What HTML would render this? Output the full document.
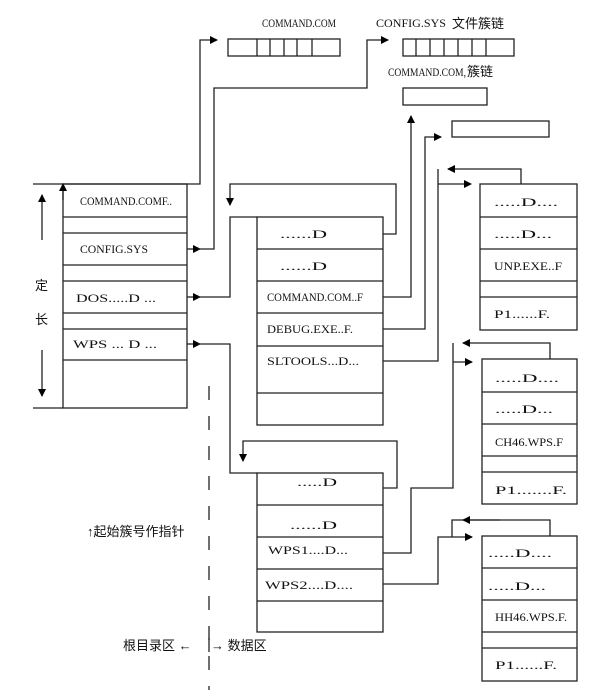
<!DOCTYPE html>
<html><head><meta charset="utf-8"><style>
html,body{margin:0;padding:0;background:#fff;}
svg{display:block;}
text{font-family:"Liberation Serif","Noto Serif CJK SC","Noto Sans CJK SC",serif;font-size:12px;fill:#111;}
.c{font-family:"Liberation Sans","Noto Sans CJK SC",sans-serif;font-size:13px;}
</style></head><body>
<svg width="603" height="698" viewBox="0 0 603 698" xmlns="http://www.w3.org/2000/svg">
<defs>
<marker id="a" markerWidth="8" markerHeight="8" refX="7" refY="4" orient="auto" markerUnits="userSpaceOnUse"><path d="M0,0 L8,4 L0,8 z" fill="#000"/></marker>
</defs>
<g stroke="#222" stroke-width="1.3" fill="none">
<!-- left box -->
<rect x="63" y="184" width="124" height="224"/>
<line x1="63" y1="217" x2="187" y2="217"/><line x1="63" y1="233" x2="187" y2="233"/>
<line x1="63" y1="265" x2="187" y2="265"/><line x1="63" y1="281" x2="187" y2="281"/>
<line x1="63" y1="313" x2="187" y2="313"/><line x1="63" y1="329" x2="187" y2="329"/>
<line x1="63" y1="360" x2="187" y2="360"/>
<line x1="33" y1="408" x2="63" y2="408"/>
<line x1="63" y1="200" x2="63" y2="184" marker-end="url(#a)"/>
<line x1="42" y1="240" x2="42" y2="195" marker-end="url(#a)"/>
<line x1="42" y1="350" x2="42" y2="396" marker-end="url(#a)"/>
<!-- top line to COMMAND.COM -->
<polyline points="33,184 200,184 200,40 217,40" marker-end="url(#a)"/>
<!-- CONFIG.SYS -->
<polyline points="187,249 200,249" marker-end="url(#a)"/>
<polyline points="198,249 214,249 214,88 367,88 367,40 388,40" marker-end="url(#a)"/>
<!-- DOS -->
<polyline points="187,297 200,297" marker-end="url(#a)"/>
<polyline points="198,297 230,297 230,217 257,217"/>
<!-- WPS -->
<polyline points="187,344 200,344" marker-end="url(#a)"/>
<polyline points="198,344 230,344 230,473 257,473"/>
<!-- top boxes -->
<rect x="228" y="39" width="112" height="17"/>
<line x1="257" y1="39" x2="257" y2="56"/><line x1="270" y1="39" x2="270" y2="56"/><line x1="284" y1="39" x2="284" y2="56"/><line x1="297" y1="39" x2="297" y2="56"/><line x1="312" y1="39" x2="312" y2="56"/>
<rect x="403" y="39" width="111" height="17"/>
<line x1="416" y1="39" x2="416" y2="56"/><line x1="430" y1="39" x2="430" y2="56"/><line x1="444" y1="39" x2="444" y2="56"/><line x1="458" y1="39" x2="458" y2="56"/><line x1="472" y1="39" x2="472" y2="56"/><line x1="486" y1="39" x2="486" y2="56"/>
<rect x="403" y="88" width="84" height="17"/>
<rect x="452" y="121" width="97" height="16"/>
<!-- middle box 1 -->
<rect x="257" y="217" width="126" height="208"/>
<line x1="257" y1="249" x2="383" y2="249"/><line x1="257" y1="281" x2="383" y2="281"/>
<line x1="257" y1="313" x2="383" y2="313"/><line x1="257" y1="346" x2="383" y2="346"/>
<line x1="257" y1="393" x2="383" y2="393"/>
<polyline points="383,234 396,234 396,184 230,184 230,205" marker-end="url(#a)"/>
<polyline points="383,297 411,297 411,116" marker-end="url(#a)"/>
<polyline points="383,329 425,329 425,137 441,137" marker-end="url(#a)"/>
<polyline points="383,361 438,361 438,169"/>
<polyline points="521,184 521,169 448,169" marker-end="url(#a)"/>
<polyline points="438,184 471,184" marker-end="url(#a)"/>
<!-- right box 1 -->
<rect x="480" y="184" width="97" height="146"/>
<line x1="480" y1="217" x2="577" y2="217"/><line x1="480" y1="249" x2="577" y2="249"/>
<line x1="480" y1="281" x2="577" y2="281"/><line x1="480" y1="297" x2="577" y2="297"/>
<!-- middle box 2 -->
<rect x="257" y="473" width="126" height="159"/>
<line x1="257" y1="505" x2="383" y2="505"/><line x1="257" y1="537" x2="383" y2="537"/>
<line x1="257" y1="569" x2="383" y2="569"/><line x1="257" y1="601" x2="383" y2="601"/>
<polyline points="383,488 397,488 397,441 243,441 243,461" marker-end="url(#a)"/>
<polyline points="383,553 411,553 411,488 453,488 453,343"/>
<polyline points="550,359 550,343 463,343" marker-end="url(#a)"/>
<polyline points="453,362 472,362" marker-end="url(#a)"/>
<!-- right box 2 -->
<rect x="482" y="359" width="95" height="145"/>
<line x1="482" y1="392" x2="577" y2="392"/><line x1="482" y1="424" x2="577" y2="424"/>
<line x1="482" y1="456" x2="577" y2="456"/><line x1="482" y1="472" x2="577" y2="472"/>
<!-- right box 3 -->
<polyline points="383,584 438,584 438,537 472,537" marker-end="url(#a)"/>
<polyline points="452,537 452,520 550,520 550,536"/>
<line x1="500" y1="520" x2="463" y2="520" marker-end="url(#a)"/>
<rect x="482" y="536" width="95" height="145"/>
<line x1="482" y1="568" x2="577" y2="568"/><line x1="482" y1="600" x2="577" y2="600"/>
<line x1="482" y1="632" x2="577" y2="632"/><line x1="482" y1="648" x2="577" y2="648"/>
<!-- dashed -->
<line x1="209" y1="386" x2="209" y2="690" stroke-dasharray="14,16"/>
<line x1="209" y1="638" x2="209" y2="652"/>
</g>
<!-- texts -->
<text x="262" y="27" textLength="74" lengthAdjust="spacingAndGlyphs">COMMAND.COM</text>
<text x="376" y="27" textLength="70" lengthAdjust="spacingAndGlyphs">CONFIG.SYS</text>
<text class="c" x="452" y="28">文件簇链</text>
<text x="388" y="76" textLength="78" lengthAdjust="spacingAndGlyphs">COMMAND.COM,</text>
<text class="c" x="467" y="76">簇链</text>
<text x="80" y="205" textLength="92" lengthAdjust="spacingAndGlyphs">COMMAND.COMF..</text>
<text x="80" y="253" textLength="68" lengthAdjust="spacingAndGlyphs">CONFIG.SYS</text>
<text x="76" y="302" textLength="80" lengthAdjust="spacingAndGlyphs">DOS.....D ...</text>
<text x="73" y="348" textLength="84" lengthAdjust="spacingAndGlyphs">WPS ... D ...</text>
<text class="c" x="35" y="290">定</text>
<text class="c" x="35" y="324">长</text>
<text x="280" y="238" textLength="47" lengthAdjust="spacingAndGlyphs">......D</text>
<text x="280" y="270" textLength="47" lengthAdjust="spacingAndGlyphs">......D</text>
<text x="267" y="301" textLength="96" lengthAdjust="spacingAndGlyphs">COMMAND.COM..F</text>
<text x="267" y="333" textLength="86" lengthAdjust="spacingAndGlyphs">DEBUG.EXE..F.</text>
<text x="267" y="365" textLength="92" lengthAdjust="spacingAndGlyphs">SLTOOLS...D...</text>
<text x="494" y="206" textLength="64" lengthAdjust="spacingAndGlyphs">.....D....</text>
<text x="494" y="238" textLength="58" lengthAdjust="spacingAndGlyphs">.....D...</text>
<text x="494" y="270" textLength="68" lengthAdjust="spacingAndGlyphs">UNP.EXE..F</text>
<text x="494" y="318" textLength="56" lengthAdjust="spacingAndGlyphs">P1......F.</text>
<text x="495" y="382" textLength="64" lengthAdjust="spacingAndGlyphs">.....D....</text>
<text x="495" y="413" textLength="58" lengthAdjust="spacingAndGlyphs">.....D...</text>
<text x="495" y="446" textLength="68" lengthAdjust="spacingAndGlyphs">CH46.WPS.F</text>
<text x="495" y="494" textLength="72" lengthAdjust="spacingAndGlyphs">P1.......F.</text>
<text x="488" y="557" textLength="64" lengthAdjust="spacingAndGlyphs">.....D....</text>
<text x="488" y="590" textLength="58" lengthAdjust="spacingAndGlyphs">.....D...</text>
<text x="495" y="621" textLength="72" lengthAdjust="spacingAndGlyphs">HH46.WPS.F.</text>
<text x="495" y="669" textLength="62" lengthAdjust="spacingAndGlyphs">P1......F.</text>
<text x="297" y="486" textLength="40" lengthAdjust="spacingAndGlyphs">.....D</text>
<text x="290" y="529" textLength="47" lengthAdjust="spacingAndGlyphs">......D</text>
<text x="268" y="554" textLength="80" lengthAdjust="spacingAndGlyphs">WPS1....D...</text>
<text x="265" y="589" textLength="88" lengthAdjust="spacingAndGlyphs">WPS2....D....</text>
<text class="c" x="87" y="536">↑起始簇号作指针</text>
<text class="c" x="123" y="650">根目录区 ←</text>
<text class="c" x="211" y="650">→ 数据区</text>
</svg>
</body></html>
